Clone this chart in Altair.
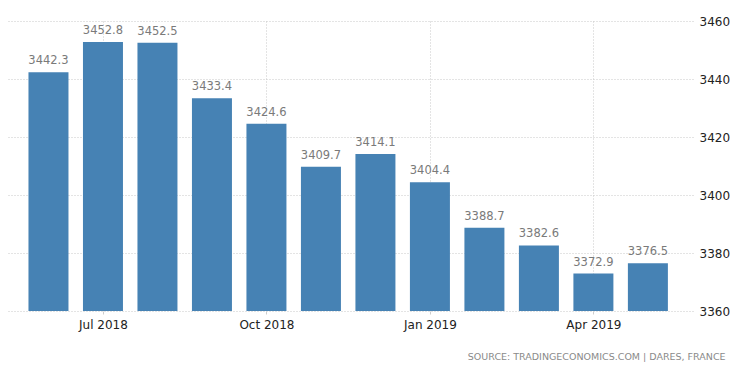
import altair as alt
import pandas as pd

months = ["Jun 2018", "Jul 2018", "Aug 2018", "Sep 2018", "Oct 2018", "Nov 2018",
          "Dec 2018", "Jan 2019", "Feb 2019", "Mar 2019", "Apr 2019", "May 2019"]
values = [3442.3, 3452.8, 3452.5, 3433.4, 3424.6, 3409.7,
          3414.1, 3404.4, 3388.7, 3382.6, 3372.9, 3376.5]
tick_idx = [1, 4, 7, 10]
y_ticks = [3360, 3380, 3400, 3420, 3440, 3460]
y_base = 3360
source = "SOURCE: TRADINGECONOMICS.COM | DARES, FRANCE"

df = pd.DataFrame({"idx": list(range(len(months))), "month": months, "value": values})
df["label"] = df["value"].map(lambda v: f"{v:.1f}")

label_expr = "{" + ",".join(f"'{i}':'{months[i]}'" for i in tick_idx) + "}[datum.value]"

x = alt.X("idx:Q",
          scale=alt.Scale(domain=[-0.651, 11.736], nice=False, zero=False),
          axis=alt.Axis(values=tick_idx, labelExpr=label_expr, title=None, grid=True,
                        gridDash=[1, 2], gridColor="#c8c8c8", domain=False,
                        tickSize=3, tickColor="#cccccc", labelFont="DejaVu Sans",
                        labelFontSize=12, labelColor="#222222", labelPadding=5))
y = alt.Y("value:Q",
          scale=alt.Scale(domain=[3360, 3460], nice=False, zero=False, clamp=True),
          axis=alt.Axis(orient="right", values=y_ticks, title=None, grid=True, format="d",
                        gridDash=[1, 2], gridColor="#c8c8c8", domain=False, ticks=False,
                        labelFont="DejaVu Sans", labelFontSize=12, labelColor="#222222",
                        labelPadding=6))

bars = alt.Chart(df).mark_bar(size=40, color="#4682b4").encode(
    x=x, y=y, y2=alt.datum(y_base))
texts = alt.Chart(df).mark_text(baseline="bottom", dy=-6, font="DejaVu Sans",
                                fontSize=11.5, color="#7a7a7a").encode(
    x="idx:Q", y="value:Q", text="label:N")

chart = (bars + texts).properties(
    width=685, height=290,
    autosize=alt.AutoSizeParams(type="none"),
    padding={"left": 0, "top": 13, "right": 45, "bottom": 58},
    title=alt.TitleParams(source, orient="bottom", anchor="end", fontSize=9.5,
                          font="DejaVu Sans", fontWeight="normal", color="#8a8a8a",
                          offset=22, dx=-4),
).configure_view(stroke=None)

chart.save("out.html", embed_options={"renderer": "svg", "actions": False})
